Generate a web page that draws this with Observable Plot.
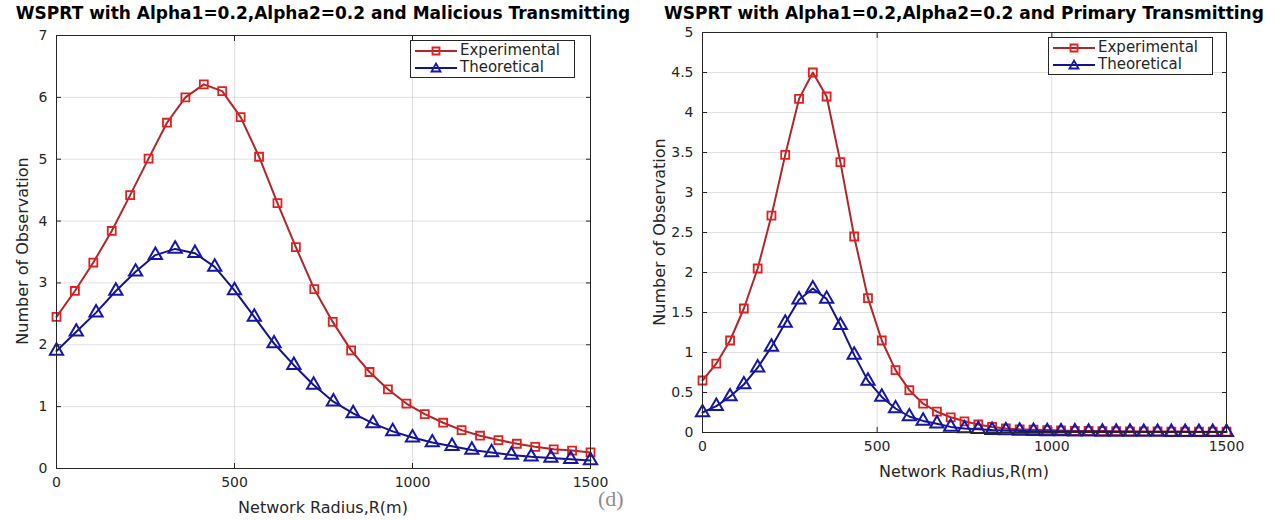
<!DOCTYPE html>
<html><head><meta charset="utf-8">
<script src="https://cdn.jsdelivr.net/npm/d3@7"></script>
<script src="https://cdn.jsdelivr.net/npm/@observablehq/plot@0.6"></script>
<style>
body{margin:0;background:#fff;}
#root{position:relative;width:1282px;height:520px;overflow:hidden;background:#fff;font-family:"DejaVu Sans",sans-serif;}
.abs{position:absolute;white-space:nowrap;}
.title{font-weight:bold;font-size:17px;color:#000;transform:translate(-50%,-50%);}
.xlabel{font-size:16px;color:#262626;transform:translate(-50%,-50%);}
.ylabel{font-size:16px;color:#262626;transform:translate(-50%,-50%) rotate(-90deg);}
.legend{border:1px solid #262626;background:#fff;font-size:15px;color:#262626;padding:1px 14px 1px 2px;line-height:17px;}
.legend .row{display:flex;align-items:center;height:17px;}
.legend svg{margin-right:1px;}
.mark{font-family:"Liberation Serif",serif;font-size:22px;color:#8c8c8c;}
</style></head><body>
<div id="root"></div>
<script>
// ---- Data ----
const titleLeft = "WSPRT with Alpha1=0.2,Alpha2=0.2 and Malicious Transmitting";
const titleRight = "WSPRT with Alpha1=0.2,Alpha2=0.2 and Primary Transmitting";
const xLabel = "Network Radius,R(m)";
const yLabel = "Number of Observation";
const seriesNames = ["Experimental", "Theoretical"];
const xTicks = [0, 500, 1000, 1500];
const yTicksLeft = [0, 1, 2, 3, 4, 5, 6, 7];
const yTicksRight = [0, 0.5, 1, 1.5, 2, 2.5, 3, 3.5, 4, 4.5, 5];

// Left panel (Malicious Transmitting)
const xExpMal = [0, 51.7, 103.4, 155.2, 206.9, 258.6, 310.3, 362.1, 413.8, 465.5, 517.2, 569.0, 620.7, 672.4, 724.1, 775.9, 827.6, 879.3, 931.0, 982.8, 1034.5, 1086.2, 1137.9, 1189.7, 1241.4, 1293.1, 1344.8, 1396.6, 1448.3, 1500];
const yExpMal = [2.45, 2.87, 3.33, 3.84, 4.42, 5.01, 5.59, 6.00, 6.21, 6.10, 5.68, 5.04, 4.29, 3.58, 2.90, 2.37, 1.91, 1.56, 1.28, 1.05, 0.88, 0.74, 0.62, 0.53, 0.46, 0.40, 0.35, 0.31, 0.29, 0.26];
const xTheoMal = [0, 55.6, 111.1, 166.7, 222.2, 277.8, 333.3, 388.9, 444.4, 500, 555.6, 611.1, 666.7, 722.2, 777.8, 833.3, 888.9, 944.4, 1000, 1055.6, 1111.1, 1166.7, 1222.2, 1277.8, 1333.3, 1388.9, 1444.4, 1500];
const yTheoMal = [1.90, 2.21, 2.52, 2.87, 3.18, 3.45, 3.55, 3.48, 3.26, 2.88, 2.45, 2.02, 1.67, 1.35, 1.08, 0.89, 0.73, 0.60, 0.50, 0.42, 0.36, 0.30, 0.26, 0.22, 0.19, 0.17, 0.15, 0.13];

// Right panel (Primary Transmitting)
const xPrim = [0, 39.5, 78.9, 118.4, 157.9, 197.4, 236.8, 276.3, 315.8, 355.3, 394.7, 434.2, 473.7, 513.2, 552.6, 592.1, 631.6, 671.1, 710.5, 750, 789.5, 828.9, 868.4, 907.9, 947.4, 986.8, 1026.3, 1065.8, 1105.3, 1144.7, 1184.2, 1223.7, 1263.2, 1302.6, 1342.1, 1381.6, 1421.1, 1460.5, 1500];
const yExpPrim = [0.65, 0.86, 1.15, 1.55, 2.05, 2.71, 3.47, 4.17, 4.50, 4.20, 3.38, 2.45, 1.68, 1.15, 0.78, 0.53, 0.36, 0.26, 0.19, 0.14, 0.10, 0.07, 0.05, 0.04, 0.035, 0.03, 0.025, 0.02, 0.02, 0.018, 0.016, 0.015, 0.014, 0.013, 0.012, 0.011, 0.01, 0.01, 0.01];
const yTheoPrim = [0.25, 0.33, 0.45, 0.60, 0.81, 1.07, 1.37, 1.66, 1.80, 1.67, 1.34, 0.97, 0.645, 0.445, 0.30, 0.20, 0.145, 0.11, 0.07, 0.05, 0.04, 0.03, 0.025, 0.02, 0.016, 0.014, 0.012, 0.01, 0.009, 0.008, 0.007, 0.007, 0.006, 0.006, 0.005, 0.005, 0.005, 0.005, 0.005];

// ---- Styles ----
const redLine = "#b02629", redMark = "#e0201f";
const blueLine = "#14148a", blueMark = "#1616a8";
const axisColor = "#262626";

const zip = (xs, ys) => xs.map((x, i) => ({x, y: ys[i]}));
const fmt = d => String(d);

function panel({width, height, mL, mR, mT, mB, yDomain, yTicks, exp, theo}) {
  const tick = {stroke: axisColor, strokeWidth: 1, text: null, label: null, tickSize: 5};
  return Plot.plot({
    width, height,
    marginLeft: mL, marginRight: mR, marginTop: mT, marginBottom: mB,
    style: {fontFamily: "DejaVu Sans, sans-serif", fontSize: "14px", color: axisColor, background: "transparent", overflow: "visible"},
    x: {domain: [0, 1500]},
    y: {domain: yDomain},
    marks: [
      Plot.gridX([500, 1000], {stroke: "#000", strokeOpacity: 0.12}),
      Plot.gridY(yTicks.slice(1, -1), {stroke: "#000", strokeOpacity: 0.12}),
      Plot.axisX(xTicks, {anchor: "bottom", tickSize: 0, tickPadding: 9, label: null, fill: axisColor, tickFormat: fmt}),
      Plot.axisY(yTicks, {anchor: "left", tickSize: 0, tickPadding: 9, label: null, fill: axisColor, tickFormat: fmt}),
      Plot.axisX(xTicks, {...tick, anchor: "bottom", dy: -5}),
      Plot.axisX(xTicks, {...tick, anchor: "top", dy: 5}),
      Plot.axisY(yTicks, {...tick, anchor: "left", dx: 5}),
      Plot.axisY(yTicks, {...tick, anchor: "right", dx: -5}),
      Plot.line(exp, {x: "x", y: "y", stroke: redLine, strokeWidth: 2}),
      Plot.dot(exp, {x: "x", y: "y", symbol: "square", r: 4.5, stroke: redMark, strokeWidth: 1.8, fill: "none"}),
      Plot.line(theo, {x: "x", y: "y", stroke: blueLine, strokeWidth: 2}),
      Plot.dot(theo, {x: "x", y: "y", symbol: "triangle", r: 4.9, stroke: blueMark, strokeWidth: 2, fill: "none"}),
      Plot.frame({stroke: axisColor, strokeWidth: 1})
    ]
  });
}

const root = document.getElementById("root");
function place(el, left, top) {
  el.style.position = "absolute"; el.style.left = left + "px"; el.style.top = top + "px";
  root.appendChild(el);
}
function text(cls, str, left, top) {
  const d = document.createElement("div");
  d.className = "abs " + cls; d.textContent = str;
  d.style.left = left + "px"; d.style.top = top + "px";
  root.appendChild(d);
}
function legend(left, top) {
  const box = document.createElement("div");
  box.className = "legend abs";
  box.style.left = left + "px"; box.style.top = top + "px";
  const defs = [
    {name: seriesNames[0], line: redLine, mark: redMark, shape: "sq"},
    {name: seriesNames[1], line: blueLine, mark: blueMark, shape: "tri"}
  ];
  for (const d of defs) {
    const row = document.createElement("div"); row.className = "row";
    const ns = "http://www.w3.org/2000/svg";
    const s = document.createElementNS(ns, "svg");
    s.setAttribute("width", 46); s.setAttribute("height", 16);
    const l = document.createElementNS(ns, "line");
    l.setAttribute("x1", 2); l.setAttribute("x2", 44); l.setAttribute("y1", 8); l.setAttribute("y2", 8);
    l.setAttribute("stroke", d.line); l.setAttribute("stroke-width", 2);
    s.appendChild(l);
    const p = document.createElementNS(ns, "path");
    p.setAttribute("d", d.shape === "sq" ? "M19.5,4.5h7v7h-7z" : "M23,3.5L27.5,11.5L18.5,11.5Z");
    p.setAttribute("fill", "none"); p.setAttribute("stroke", d.mark); p.setAttribute("stroke-width", 1.8);
    s.appendChild(p);
    row.appendChild(s);
    const t = document.createElement("span"); t.textContent = d.name;
    row.appendChild(t);
    box.appendChild(row);
  }
  root.appendChild(box);
}

const left = panel({width: 640, height: 520, mL: 56, mR: 50, mT: 35, mB: 52,
  yDomain: [0, 7], yTicks: yTicksLeft, exp: zip(xExpMal, yExpMal), theo: zip(xTheoMal, yTheoMal)});
place(left, 0, 0);
const right = panel({width: 642, height: 520, mL: 62, mR: 56, mT: 32, mB: 88,
  yDomain: [0, 5], yTicks: yTicksRight, exp: zip(xPrim, yExpPrim), theo: zip(xPrim, yTheoPrim)});
place(right, 640, 0);

text("title", titleLeft, 323, 13);
text("title", titleRight, 964, 13);
text("xlabel", xLabel, 323, 507);
text("xlabel", xLabel, 964, 471);
text("ylabel", yLabel, 22, 251);
text("ylabel", yLabel, 659, 232);
text("mark", "(d)", 598, 486);
legend(410, 40);
legend(1048, 37);
</script>
</body></html>
